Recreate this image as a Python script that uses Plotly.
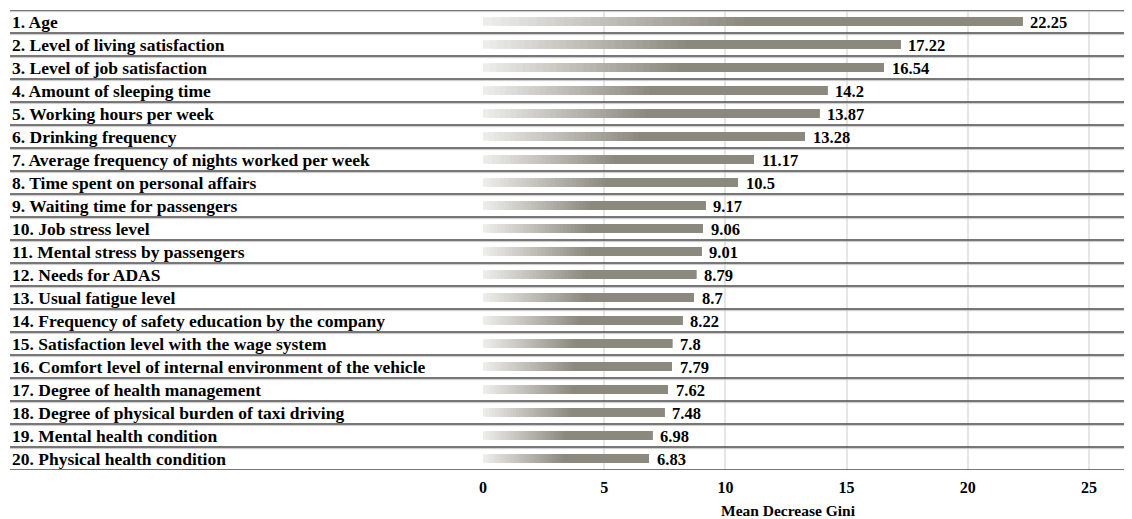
import plotly.graph_objects as go

labels = [
    "1. Age",
    "2. Level of living satisfaction",
    "3. Level of job satisfaction",
    "4. Amount of sleeping time",
    "5. Working hours per week",
    "6. Drinking frequency",
    "7. Average frequency of nights worked per week",
    "8. Time spent on personal affairs",
    "9. Waiting time for passengers",
    "10. Job stress level",
    "11. Mental stress by passengers",
    "12. Needs for ADAS",
    "13. Usual fatigue level",
    "14. Frequency of safety education by the company",
    "15. Satisfaction level with the wage system",
    "16. Comfort level of internal environment of the vehicle",
    "17. Degree of health management",
    "18. Degree of physical burden of taxi driving",
    "19. Mental health condition",
    "20. Physical health condition",
]
values = [22.25, 17.22, 16.54, 14.2, 13.87, 13.28, 11.17, 10.5, 9.17, 9.06,
          9.01, 8.79, 8.7, 8.22, 7.8, 7.79, 7.62, 7.48, 6.98, 6.83]
x_ticks = [0, 5, 10, 15, 20, 25]
x_title = "Mean Decrease Gini"

FONT = "Liberation Serif"
LIGHT = (236, 236, 234)
DARK = (139, 136, 125)
GRAD_FRAC = 0.5
STEPS = 30
BAR_W = 0.37

# page body has an 8px margin, so the figure is drawn 8px smaller
OFF = 8
FIG_W, FIG_H = 1132 - OFF, 519 - OFF
L_PX = 483 - OFF
T_PX = 10 - OFF
PLOT_W = FIG_W - L_PX
PLOT_H = 460
B_PX = FIG_H - T_PX - PLOT_H

ypos = list(range(len(labels)))
fig = go.Figure()

# gradient part: layered bars, each from its start to the bar end
for k in range(STEPS):
    t = k / (STEPS - 1)
    r = round(LIGHT[0] + (DARK[0] - LIGHT[0]) * t)
    g = round(LIGHT[1] + (DARK[1] - LIGHT[1]) * t)
    b = round(LIGHT[2] + (DARK[2] - LIGHT[2]) * t)
    base = [v * GRAD_FRAC * k / STEPS for v in values]
    fig.add_trace(go.Bar(
        y=ypos, x=[v - b0 for v, b0 in zip(values, base)], base=base,
        orientation="h", width=BAR_W,
        marker=dict(color=f"rgb({r},{g},{b})", line=dict(width=0)),
        hoverinfo="skip", showlegend=False,
    ))

left_paper = (10 - OFF - L_PX) / PLOT_W

shapes = []
for i in range(len(labels) + 1):
    yy = i - 0.5
    shapes.append(dict(type="line", xref="paper", yref="y", x0=left_paper, x1=1,
                       y0=yy + 0.07, y1=yy + 0.07, line=dict(color="#c8c8c8", width=1)))
    shapes.append(dict(type="line", xref="paper", yref="y", x0=left_paper, x1=1,
                       y0=yy, y1=yy, line=dict(color="#4a4a4a", width=1.5)))

annotations = []
for i, lab in enumerate(labels):
    annotations.append(dict(
        xref="paper", yref="y", x=left_paper, y=i, xanchor="left", yanchor="middle",
        text=lab, showarrow=False,
        font=dict(family=FONT, size=17.5, color="black", weight="bold"),
    ))
# value labels
for i, v in enumerate(values):
    annotations.append(dict(
        xref="x", yref="y", x=v, y=i, xanchor="left", yanchor="middle",
        xshift=6, yshift=-1, text=str(v), showarrow=False,
        font=dict(family=FONT, size=16.5, color="black", weight="bold"),
    ))
annotations.append(dict(
    xref="x", yref="paper", x=12.6, y=-40 / PLOT_H, xanchor="center", yanchor="middle",
    text=x_title, showarrow=False,
    font=dict(family=FONT, size=15.5, color="black", weight="bold"),
))

fig.update_layout(
    width=FIG_W, height=FIG_H,
    margin=dict(l=L_PX, r=0, t=T_PX, b=B_PX, pad=0),
    paper_bgcolor="white", plot_bgcolor="white",
    barmode="overlay",
    shapes=shapes, annotations=annotations,
    xaxis=dict(range=[0, PLOT_W / 24.24], tickvals=x_ticks, showgrid=True,
               gridcolor="#e6e6e6", gridwidth=1.5, zeroline=False, showline=False,
               ticks="", ticklabelstandoff=6,
               tickfont=dict(family=FONT, size=16, color="black", weight="bold"),
               fixedrange=True),
    yaxis=dict(range=[len(labels) - 0.5, -0.5], showticklabels=False, showgrid=False,
               zeroline=False, showline=False, ticks="", fixedrange=True),
)

fig.write_html("out.html")
